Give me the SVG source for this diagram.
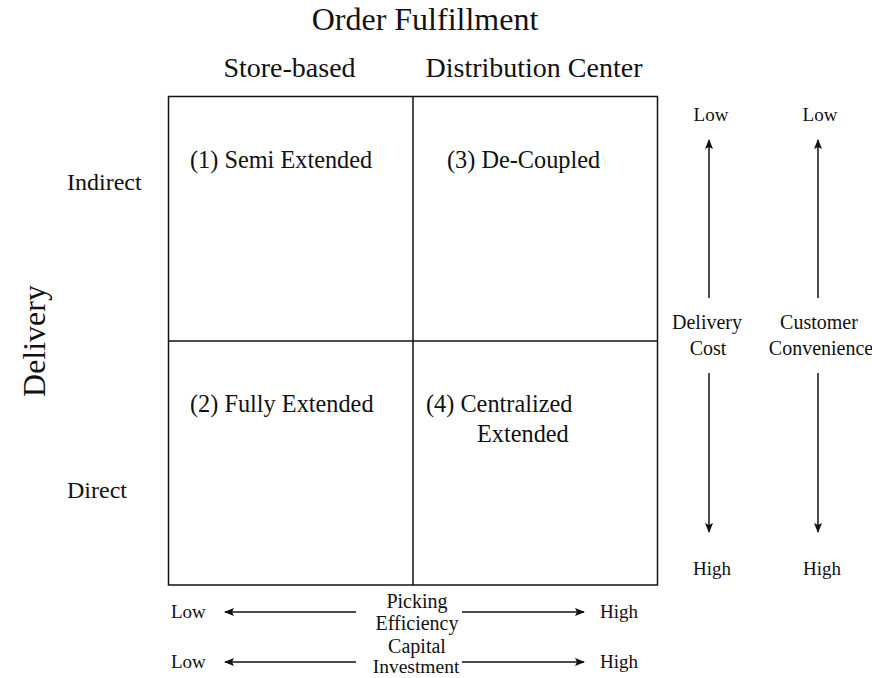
<svg xmlns="http://www.w3.org/2000/svg" width="872" height="678" viewBox="0 0 872 678">
  <defs>
    <marker id="head" viewBox="0 0 10 8" refX="9" refY="4" markerWidth="10" markerHeight="8" markerUnits="userSpaceOnUse" orient="auto">
      <path d="M0,0 L10,4 L0,8 L2,4 Z" fill="#111"/>
    </marker>
  </defs>
  <style>
    .title { font-size: 32px; }
    .col { font-size: 28px; }
    .cell { font-size: 24.3px; }
    .row { font-size: 24px; }
    .small { font-size: 19px; }
    .mid { font-size: 20px; }
    .grid { fill: none; stroke: #111; stroke-width: 1.5; }
    .arrow { stroke: #111; stroke-width: 1.5; fill: none; marker-end: url(#head); }
  </style>
  <rect width="872" height="678" fill="#fff"/>

  <g font-family="'Liberation Serif', Tinos, 'Times New Roman', 'DejaVu Serif', serif" fill="#111">
  <!-- headings -->
  <g id="heading-order">
    <text class="title" x="425" y="30" text-anchor="middle">Order Fulfillment</text>
  </g>
  <g id="heading-store">
    <text class="col" x="289.5" y="77" text-anchor="middle">Store-based</text>
  </g>
  <g id="heading-dc">
    <text class="col" x="534" y="77" text-anchor="middle">Distribution Center</text>
  </g>
  <g id="heading-delivery">
    <text class="title" transform="translate(45,341) rotate(-90)" text-anchor="middle">Delivery</text>
  </g>
  <g id="row-indirect">
    <text class="row" x="67" y="190">Indirect</text>
  </g>
  <g id="row-direct">
    <text class="row" x="67" y="498">Direct</text>
  </g>

  <!-- matrix -->
  <g id="matrix">
    <rect class="grid" x="168.5" y="96.5" width="489" height="488.5"/>
    <line class="grid" x1="413" y1="96.5" x2="413" y2="585"/>
    <line class="grid" x1="168.5" y1="341" x2="657.5" y2="341"/>
  </g>
  <g id="cell-1">
    <text class="cell" x="190" y="168">(1) Semi Extended</text>
  </g>
  <g id="cell-3">
    <text class="cell" x="447" y="168">(3) De-Coupled</text>
  </g>
  <g id="cell-2">
    <text class="cell" x="190" y="412">(2) Fully Extended</text>
  </g>
  <g id="cell-4">
    <text class="cell" x="426" y="412">(4) Centralized</text>
    <text class="cell" x="477" y="442">Extended</text>
  </g>

  <!-- axis labels -->
  <g id="axis-delivery-cost">
    <text class="small" x="711" y="121" text-anchor="middle">Low</text>
    <text class="mid" x="707" y="329" text-anchor="middle">Delivery</text>
    <text class="mid" x="708" y="355" text-anchor="middle">Cost</text>
    <text class="small" x="712" y="575" text-anchor="middle">High</text>
  </g>
  <g id="axis-convenience">
    <text class="small" x="820" y="121" text-anchor="middle">Low</text>
    <text class="mid" x="819" y="329" text-anchor="middle">Customer</text>
    <text class="mid" x="821" y="355" text-anchor="middle">Convenience</text>
    <text class="small" x="822" y="575" text-anchor="middle">High</text>
  </g>
  <g id="axis-picking">
    <text class="small" x="171" y="618">Low</text>
    <text class="mid" x="417" y="608" text-anchor="middle">Picking</text>
    <text class="mid" x="417" y="630" text-anchor="middle">Efficiency</text>
    <text class="small" x="600" y="618">High</text>
  </g>
  <g id="axis-capital">
    <text class="small" x="171" y="668">Low</text>
    <text class="mid" x="417" y="653" text-anchor="middle">Capital</text>
    <text x="416" y="673" text-anchor="middle" font-size="19.5">Investment</text>
    <text class="small" x="600" y="668">High</text>
  </g>
  </g>

  <!-- connectors -->
  <g id="connectors">
    <line class="arrow" x1="709" y1="298" x2="709" y2="140"/>
    <line class="arrow" x1="709" y1="373" x2="709" y2="532"/>
    <line class="arrow" x1="818" y1="298" x2="818" y2="140"/>
    <line class="arrow" x1="818" y1="373" x2="818" y2="532"/>
    <line class="arrow" x1="356" y1="612" x2="225" y2="612"/>
    <line class="arrow" x1="462" y1="612" x2="584" y2="612"/>
    <line class="arrow" x1="356" y1="662" x2="225" y2="662"/>
    <line class="arrow" x1="462" y1="662" x2="584" y2="662"/>
  </g>
</svg>
